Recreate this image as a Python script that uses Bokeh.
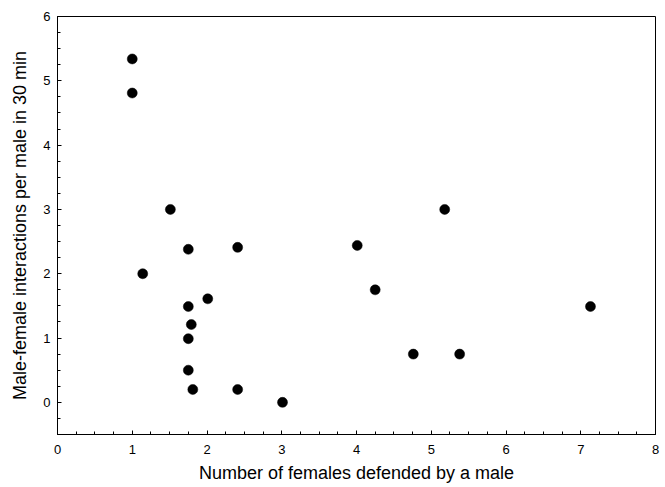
from bokeh.plotting import figure
from bokeh.models import Range1d, FixedTicker
from bokeh.embed import file_html
from bokeh.resources import INLINE

females = [1.0, 1.0, 1.51, 1.14, 1.75, 2.41, 2.01, 1.75, 1.79, 1.75, 1.75, 1.81, 2.41, 3.01, 4.01, 4.25, 5.18, 4.76, 5.38, 7.13]
interactions = [5.34, 4.81, 3.0, 2.0, 2.38, 2.41, 1.61, 1.49, 1.21, 0.99, 0.5, 0.2, 0.2, 0.0, 2.44, 1.75, 3.0, 0.75, 0.75, 1.49]
x_ticks = [0, 1, 2, 3, 4, 5, 6, 7, 8]
y_ticks = [0, 1, 2, 3, 4, 5, 6]

p = figure(width=665, height=487, output_backend="svg", toolbar_location=None,
           x_range=Range1d(0, 8), y_range=Range1d(-0.5, 6),
           min_border_left=57, min_border_right=10, min_border_top=16, min_border_bottom=53)

p.scatter(females, interactions, size=10, fill_color="black", line_color="black", line_width=0.5)

p.grid.visible = False
p.outline_line_color = "black"
p.outline_line_width = 1
p.background_fill_color = "white"
p.border_fill_color = "white"

x_minor = [i * 0.25 for i in range(0, 33)]
y_minor = [-0.5 + i * 0.25 for i in range(0, 27)]
p.xaxis.ticker = FixedTicker(ticks=x_ticks, minor_ticks=x_minor)
p.yaxis.ticker = FixedTicker(ticks=y_ticks, minor_ticks=y_minor)

for ax in (p.xaxis[0], p.yaxis[0]):
    ax.axis_line_color = "black"
    ax.major_tick_line_color = "black"
    ax.minor_tick_line_color = "black"
    ax.major_tick_in = 4
    ax.major_tick_out = 0
    ax.minor_tick_in = 3
    ax.minor_tick_out = 0
    ax.major_label_text_font = "Liberation Sans"
    ax.major_label_text_font_size = "13px"
    ax.major_label_text_color = "black"
    ax.axis_label_text_font = "Liberation Sans"
    ax.axis_label_text_font_size = "18px"
    ax.axis_label_text_font_style = "normal"
    ax.axis_label_text_color = "black"

p.xaxis.axis_label = "Number of females defended by a male"
p.yaxis.axis_label = "Male-female interactions per male in 30 min"
p.xaxis.major_label_standoff = 10
p.xaxis.axis_label_standoff = 6
p.yaxis.major_label_standoff = 7
p.yaxis.axis_label_standoff = 10

open("out.html", "w").write(file_html(p, INLINE))
